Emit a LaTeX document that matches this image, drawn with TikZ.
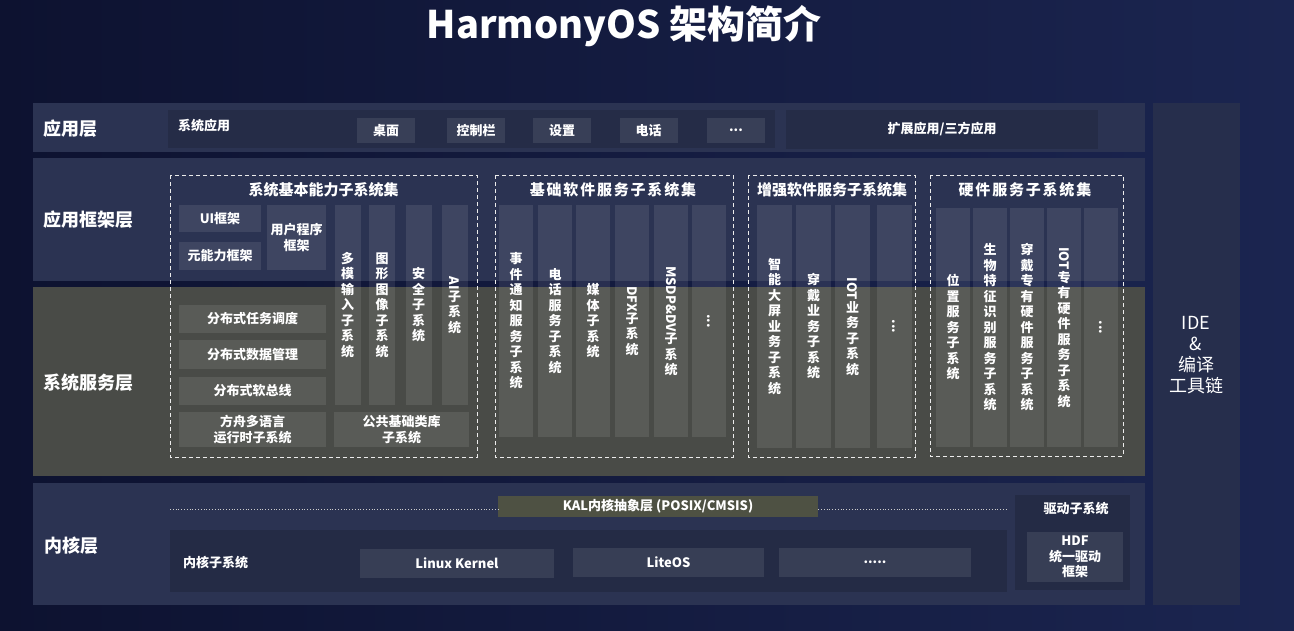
\documentclass[tikz,border=0pt]{standalone}
\usepackage{fontspec}
\setmainfont{Noto Sans CJK SC}
\usepackage{graphicx}
\definecolor{bgl}{HTML}{0D1230}
\definecolor{bgm}{HTML}{18203F}
\definecolor{bgr}{HTML}{1B2550}
\definecolor{navy}{HTML}{2B3352}
\definecolor{olive}{HTML}{494B47}
\definecolor{kalc}{HTML}{4E5143}
\definecolor{idec}{HTML}{262E4C}
\def\ftitle{\fontsize{38}{40}\selectfont\bfseries}
\def\flayer{\fontsize{18}{20}\selectfont\bfseries}
\def\fide{\fontsize{18}{21}\selectfont}
\def\fgrp{\fontsize{15}{17}\selectfont\bfseries}
\def\fsmall{\fontsize{13}{15.5}\selectfont\bfseries}
\def\vr#1{\rotatebox{-90}{#1}}
\def\dd{.{}.{}.}
\usetikzlibrary{calc}

\begin{document}
\begin{tikzpicture}[x=1pt, y=-1pt, every node/.style={text=white, inner sep=0pt, font=\fsmall},
	blk/.style={fill=white, fill opacity=0.09, text opacity=1, align=center},
	col/.style={blk, align=center},
	grp/.style={draw=white!85!gray, dash pattern=on 4pt off 3pt, line width=0.9pt},
	dotline/.style={draw=white!60!gray, dotted, line width=0.8pt}]
		\useasboundingbox (0,0) rectangle (1294,631);
		\shade[left color=bgl, middle color=bgm, right color=bgr] (0,0) rectangle (1294,631);
		% title
		\node[font=\ftitle] (title) at (624,26) {HarmonyOS 架构简介};
		% layers
		\fill[navy] (33,103) rectangle (1145,152);
		\fill[navy] (33,158) rectangle (1145,281);
		\fill[olive] (33,287) rectangle (1145,476);
		\fill[navy] (33,483) rectangle (1145,605);
		\fill[idec] (1153,103) rectangle (1240,605);
		\node[anchor=west, font=\flayer] (appL) at (43,129) {应用层};
		\node[anchor=west, font=\flayer] (fwL) at (43,220) {应用框架层};
		\node[anchor=west, font=\flayer] (svcL) at (43,383) {系统服务层};
		\node[anchor=west, font=\flayer] (kerL) at (44,546) {内核层};
		\node[font=\fide, align=center] (ide) at (1196,355) {IDE\\\&\\编译\\工具链};
		
		% application layer
		\fill[black, opacity=0.13] (168,110) rectangle (775,148);
		\node[anchor=west] (sysapp) at (178,126) {系统应用};
		\foreach \n/\x/\t in {1/386/桌面, 2/476/控制栏, 3/562/设置, 4/648.5/电话, 5/736/\dd}
			\node[blk, minimum width=58, minimum height=25] (app\n) at (\x,130.5) {\t};
		\node[fill=black, fill opacity=0.13, text opacity=1, minimum width=312, minimum height=39] (ext) at (942,129.5) {扩展应用/三方应用};
		
		% system basic capability set
		\draw[grp] (170,175) rectangle (477,457);
		\node[font=\fgrp] (g1) at (323.5,190) {系统基本能力子系统集};
		\node[blk, minimum width=82, minimum height=27] (ui) at (220,218.5) {UI框架};
		\node[blk, minimum width=82, minimum height=28] (ability) at (220,256) {元能力框架};
		\node[blk, minimum width=59, minimum height=65] (userfw) at (296.5,237.5) {用户程序\\框架};
		\node[blk, minimum width=147, minimum height=28] (dsched) at (252.5,319) {分布式任务调度};
		\node[blk, minimum width=147, minimum height=29] (ddata) at (252.5,354.5) {分布式数据管理};
		\node[blk, minimum width=147, minimum height=28] (dbus) at (252.5,391) {分布式软总线};
		\node[blk, minimum width=147, minimum height=35] (ark) at (252.5,429.5) {方舟多语言\\运行时子系统};
		\node[blk, minimum width=135, minimum height=35] (utils) at (401.5,429.5) {公共基础类库\\子系统};
		\foreach \n/\x/\t in {1/347.5/{多\\模\\输\\入\\子\\系\\统}, 2/382/{图\\形\\图\\像\\子\\系\\统},
			3/418.5/{安\\全\\子\\系\\统}, 4/454.5/{\vr{AI}\\子\\系\\统}}
			\node[col, minimum width=26, minimum height=200] (bc\n) at (\x,305) {\t};
		
		% basic software service set
		\draw[grp] (495,175) rectangle (733,457);
		\node[font=\fgrp\addfontfeature{LetterSpace=12}] (g2) at (613,190) {基础软件服务子系统集};
		\foreach \n/\x/\t in {1/516/{事\\件\\通\\知\\服\\务\\子\\系\\统}, 2/555/{电\\话\\服\\务\\子\\系\\统},
			3/593/{媒\\体\\子\\系\\统}, 4/632/{\vr{DFX}\\子\\系\\统}, 5/671/{\vr{MSDP\&DV}\\子\\系\\统}, 6/709/{\vr{\dd}}}
			\node[col, minimum width=34, minimum height=232] (sc\n) at (\x,321) {\t};
		
		% enhanced software service set
		\draw[grp] (748,175) rectangle (915,457);
		\node[font=\fgrp] (g3) at (832,190) {增强软件服务子系统集};
		\foreach \n/\x/\t in {1/774.5/{智\\能\\大\\屏\\业\\务\\子\\系\\统}, 2/813.5/{穿\\戴\\业\\务\\子\\系\\统},
			3/852.5/{\vr{IOT}\\业\\务\\子\\系\\统}, 4/894/{\vr{\dd}}}
			\node[col, minimum width=35, minimum height=243] (ec\n) at (\x,326.5) {\t};
		
		% hardware service set
		\draw[grp] (930,175) rectangle (1123,456);
		\node[font=\fgrp\addfontfeature{LetterSpace=12}] (g4) at (1025,190) {硬件服务子系统集};
		\foreach \n/\x/\t in {1/953/{位\\置\\服\\务\\子\\系\\统}, 2/990/{生\\物\\特\\征\\识\\别\\服\\务\\子\\系\\统},
			3/1027/{穿\\戴\\专\\有\\硬\\件\\服\\务\\子\\系\\统}, 4/1064/{\vr{IOT}\\专\\有\\硬\\件\\服\\务\\子\\系\\统}, 5/1101/{\vr{\dd}}}
			\node[col, minimum width=34, minimum height=239] (hc\n) at (\x,327.5) {\t};
		
		% kernel layer
		\fill[black, opacity=0.15] (170,530) rectangle (1007,592);
		\fill[black, opacity=0.15] (1015,495) rectangle (1130,590);
		\node[anchor=west] (kersub) at (183,563) {内核子系统};
		\node[blk, minimum width=194, minimum height=29] (linux) at (457,563.5) {Linux Kernel};
		\node[blk, minimum width=191, minimum height=29] (lite) at (668.5,562) {LiteOS};
		\node[blk, minimum width=192, minimum height=29] (more) at (875,562) {\dd.{}.};
		\node[fill=kalc, minimum width=320, minimum height=21] (kal) at (658,506.5) {KAL内核抽象层 (POSIX/CMSIS)};
		\coordinate (kalA) at (170,509);
		\coordinate (kalB) at (1007,509);
		\draw[dotline] (kalA) -- (kal.west |- kalA);
		\draw[dotline] (kal.east |- kalB) -- (kalB);
		\node (drv) at (1076,509) {驱动子系统};
		\node[blk, minimum width=96, minimum height=50] (hdf) at (1075,557) {HDF\\统一驱动\\框架};
\end{tikzpicture}
\end{document}
